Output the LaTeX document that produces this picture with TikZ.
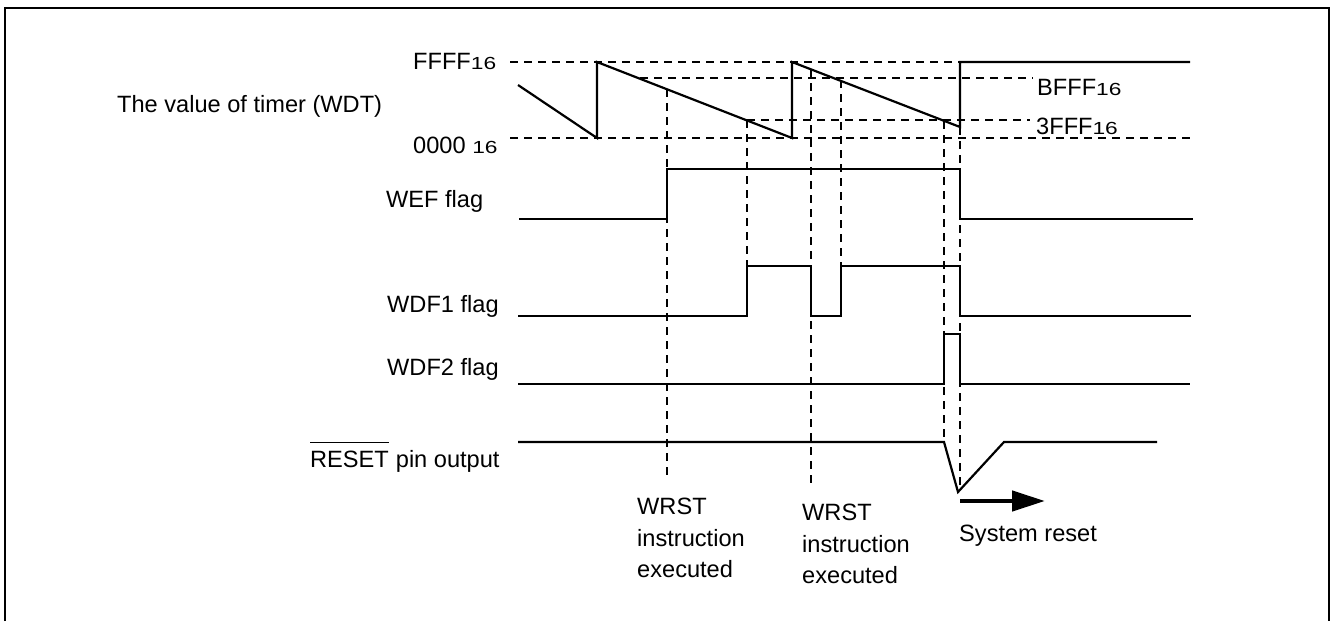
\documentclass[tikz,border=0pt]{standalone}
\usepackage{fontspec}
\usepackage{graphicx}
\setmainfont{Liberation Sans}
\usetikzlibrary{arrows.meta}
\newcommand{\subnum}[1]{{\fontsize{17.5}{17.5}\selectfont\scalebox{1.3}[1]{#1}}}
\begin{document}
\begin{tikzpicture}[x=1pt,y=-1pt,
  sig/.style={line width=2.2pt, line join=miter},
  guide/.style={line width=1.6pt, dash pattern=on 8pt off 6pt},
  lbl/.style={inner sep=0pt, font=\fontsize{23.6}{31.5}\selectfont},
  frame/.style={line width=2.4pt},
]
\useasboundingbox (0,0) rectangle (1333,621);
\draw[frame] (5,621) -- (5,8) -- (1329,8) -- (1329,621);

% labels
\node[lbl, anchor=base west] (timer) at (117,112) {The value of timer (WDT)};
\node[lbl, anchor=base west] (ffff) at (413,69) {FFFF\subnum{16}};
\node[lbl, anchor=base west] (zero) at (413,153) {0000 \subnum{16}};
\node[lbl, anchor=base west] (bfff) at (1037,95) {BFFF\subnum{16}};
\node[lbl, anchor=base west] (tfff) at (1036,134) {3FFF\subnum{16}};
\node[lbl, anchor=base west] (wef) at (386,207) {WEF flag};
\node[lbl, anchor=base west] (wdf1) at (387,312) {WDF1 flag};
\node[lbl, anchor=base west] (wdf2) at (387,375) {WDF2 flag};
\node[lbl, anchor=base west] (rstw) at (310,467) {RESET};
\node[lbl, anchor=base west] (rstp) at ([xshift=6.6pt]rstw.base east) {pin output};
\draw[line width=1pt] ([yshift=8pt]rstw.north west) -- ([yshift=8pt]rstw.north east);
\node[lbl, anchor=north west, align=left] (wrst1) at (637,498) {WRST\\instruction\\executed};
\node[lbl, anchor=north west, align=left] (wrst2) at (802,504) {WRST\\instruction\\executed};
\node[lbl, anchor=base west] (sysr) at (959,541) {System reset};

% horizontal guides
\draw[guide] (510,62) -- (960,62);
\draw[guide] (510,138) -- (1190,138);
\draw[guide] (640,78) -- (1033,78);
\draw[guide] (747,120) -- (1030,120);

% vertical guides
\draw[guide] (667,89) -- (667,478);
\draw[guide] (747,120) -- (747,266);
\draw[guide] (811,69) -- (811,483);
\draw[guide] (841,80) -- (841,266);
\draw[guide] (944,121) -- (944,442);
\draw[guide] (960,127) -- (960,487);

% timer sawtooth
\draw[sig] (518,85) -- (597,138) -- (597,62) -- (792,138) -- (792,62) -- (960,127) -- (960,62) -- (1190,62);
% WEF
\draw[sig] (519,219) -- (667,219) -- (667,169) -- (960,169) -- (960,219) -- (1193,219);
% WDF1
\draw[sig] (518,316) -- (747,316) -- (747,266) -- (811,266) -- (811,316) -- (841,316) -- (841,266) -- (960,266) -- (960,316) -- (1191,316);
% WDF2
\draw[sig] (518,384) -- (944,384) -- (944,334) -- (960,334) -- (960,384) -- (1190,384);
% RESET
\draw[sig] (518,442) -- (944,442) -- (958,492) -- (1004,442) -- (1157,442);
% system reset arrow
\coordinate (as) at (960,501);
\coordinate (ae) at (1045,501);
\draw[line width=4.5pt, -{Triangle[length=33pt,width=20pt]}] (as) -- (ae);
\end{tikzpicture}
\end{document}
